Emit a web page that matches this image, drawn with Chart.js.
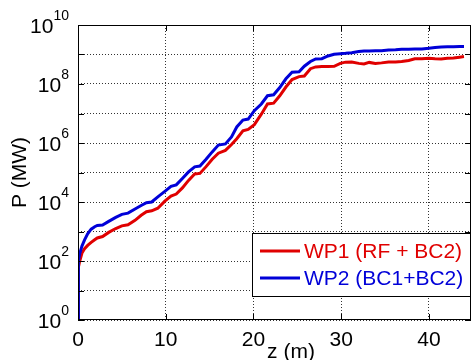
<!DOCTYPE html>
<html>
<head>
<meta charset="utf-8">
<script src="https://cdn.jsdelivr.net/npm/chart.js@4.4.0/dist/chart.umd.min.js"></script>
<style>
  html, body { margin: 0; padding: 0; background: #fff; }
  #wrap { width: 472px; height: 360px; }
</style>
</head>
<body>
<div id="wrap"><canvas id="powerChart"></canvas></div>
<script>
// position along the undulator, m
var zPositions = [0, 0.05, 0.2, 0.45, 0.75, 1.1, 1.5, 1.9, 2.2, 2.8,
  3.5, 4.3, 5.0, 5.7, 6.5, 7.2, 7.8, 8.4, 9.1, 9.9,
  10.6, 11.2, 11.9, 12.6, 13.3, 13.9, 14.6, 15.3, 16.0, 16.8,
  17.5, 18.1, 18.8, 19.4, 20.1, 20.9, 21.6, 22.3, 23.0, 23.7,
  24.4, 25.2, 25.8, 26.5, 27.1, 27.8, 28.5, 29.2, 29.9, 30.5,
  31.2, 32.0, 32.6, 33.2, 33.9, 34.6, 35.4, 36.2, 36.9, 37.7,
  38.4, 39.2, 40.0, 40.7, 41.4, 42.1, 42.8, 43.5, 44.0];

// power in MW
var wp1Power = [1, 63, 100, 186, 263, 339, 427, 525, 603, 676,
  933, 1259, 1549, 1698, 2399, 3548, 4677, 5012, 6166, 1.07e4,
  1.58e4, 1.86e4, 3.0e4, 5.4e4, 8.9e4, 9.3e4, 1.58e5, 2.8e5, 4.5e5, 5.6e5,
  8.9e5, 1.4e6, 2.6e6, 2.9e6, 4.2e6, 9.5e6, 2.1e7, 2.24e7, 4.0e7, 7.9e7,
  1.41e8, 1.78e8, 1.86e8, 3.3e8, 3.8e8, 3.9e8, 3.9e8, 4.0e8, 5.0e8, 5.5e8,
  5.6e8, 5.0e8, 4.8e8, 5.4e8, 5.0e8, 5.2e8, 5.6e8, 5.6e8, 5.8e8, 6.3e8,
  7.2e8, 7.2e8, 7.4e8, 7.2e8, 7.1e8, 7.4e8, 7.6e8, 8.1e8, 8.5e8];

var wp2Power = [1, 100, 180, 320, 520, 830, 1200, 1450, 1600, 1650,
  2200, 3000, 3800, 4200, 5800, 7600, 9500, 1.0e4, 1.5e4, 2.3e4,
  3.4e4, 3.8e4, 6.3e4, 1.05e5, 1.55e5, 1.65e5, 2.8e5, 5.0e5, 8.5e5, 9.3e5,
  1.6e6, 3.5e6, 6.0e6, 6.5e6, 1.25e7, 2.1e7, 4.0e7, 4.3e7, 7.6e7, 1.5e8,
  2.5e8, 2.6e8, 4.0e8, 5.8e8, 7.1e8, 7.2e8, 8.9e8, 1.02e9, 1.07e9, 1.1e9,
  1.15e9, 1.26e9, 1.32e9, 1.32e9, 1.35e9, 1.35e9, 1.41e9, 1.45e9, 1.51e9, 1.51e9,
  1.55e9, 1.55e9, 1.62e9, 1.74e9, 1.78e9, 1.82e9, 1.82e9, 1.86e9, 1.86e9];

var seriesLabels = ['WP1 (RF + BC2)', 'WP2 (BC1+BC2)'];
var zTicks = [0, 10, 20, 30, 40];
var powerTicks = [1e0, 1e1, 1e2, 1e3, 1e4, 1e5, 1e6, 1e7, 1e8, 1e9, 1e10];
var labelledExponents = ['0', '2', '4', '6', '8', '10'];

var FONT = "'Liberation Sans', Arial, Helvetica, sans-serif";

function toPoints(values) {
  return zPositions.map(function(z, i) { return { x: z, y: values[i] }; });
}

// matlab style box, inward ticks, exponent labels, x label and legend
var matlabDecor = {
  id: 'matlabDecor',
  afterDraw: function(chart) {
    var ctx = chart.ctx;
    var area = chart.chartArea;
    var xs = chart.scales.x;
    var ys = chart.scales.y;
    ctx.save();

    ctx.strokeStyle = '#000';
    ctx.lineWidth = 1;
    ctx.beginPath();
    powerTicks.forEach(function(v) {
      var y = Math.round(ys.getPixelForValue(v)) + 0.5;
      ctx.moveTo(area.left, y); ctx.lineTo(area.left + 6, y);
      ctx.moveTo(area.right, y); ctx.lineTo(area.right - 6, y);
    });
    zTicks.forEach(function(v) {
      var x = Math.round(xs.getPixelForValue(v)) + 0.5;
      ctx.moveTo(x, area.bottom); ctx.lineTo(x, area.bottom - 6);
      ctx.moveTo(x, area.top); ctx.lineTo(x, area.top + 6);
    });
    ctx.stroke();
    ctx.strokeRect(area.left + 0.5, area.top + 0.5, area.right - area.left - 1, area.bottom - area.top - 1);

    // y tick labels 10^n
    ctx.fillStyle = '#000';
    ctx.textAlign = 'right';
    ctx.textBaseline = 'alphabetic';
    labelledExponents.forEach(function(e) {
      var y = ys.getPixelForValue(Math.pow(10, Number(e)));
      ctx.font = '14px ' + FONT;
      var w = ctx.measureText(e).width;
      ctx.fillText(e, 69, y - 5);
      ctx.font = '21px ' + FONT;
      ctx.fillText('10', 69 - w, y + 7.5);
    });

    // x axis label
    ctx.font = '21px ' + FONT;
    ctx.textAlign = 'center';
    ctx.fillText('z (m)', 291, 358);

    // legend
    ctx.fillStyle = '#fff';
    ctx.fillRect(252, 233, 219, 64);
    ctx.strokeStyle = '#000';
    ctx.lineWidth = 1;
    ctx.strokeRect(252.5, 233.5, 218, 63);
    ctx.textAlign = 'left';
    ctx.textBaseline = 'middle';
    chart.data.datasets.forEach(function(ds, i) {
      var y = 251 + i * 27;
      ctx.strokeStyle = ds.borderColor;
      ctx.lineWidth = 3;
      ctx.beginPath();
      ctx.moveTo(260, y); ctx.lineTo(300, y);
      ctx.stroke();
      ctx.fillStyle = ds.borderColor;
      ctx.fillText(ds.label, 304, y + 1);
    });
    ctx.restore();
  }
};

var ctx = document.getElementById('powerChart');
var powerChart = new Chart(ctx, {
  type: 'line',
  data: {
    datasets: [
      {
        label: seriesLabels[0],
        data: toPoints(wp1Power),
        borderColor: '#e00000',
        borderWidth: 3,
        pointRadius: 0,
        tension: 0,
        order: 1
      },
      {
        label: seriesLabels[1],
        data: toPoints(wp2Power),
        borderColor: '#0000d8',
        borderWidth: 3,
        pointRadius: 0,
        tension: 0,
        order: 0
      }
    ]
  },
  options: {
    responsive: true,
    maintainAspectRatio: false,
    animation: false,
    layout: { padding: { top: 25, right: 1, left: 0, bottom: 0 } },
    plugins: {
      legend: { display: false },
      tooltip: { enabled: false }
    },
    scales: {
      x: {
        type: 'linear',
        min: 0,
        max: 44.8,
        afterBuildTicks: function(scale) {
          scale.ticks = zTicks.map(function(v) { return { value: v }; });
        },
        afterFit: function(scale) { scale.height = 40; },
        ticks: {
          color: '#000',
          font: { family: FONT, size: 21 },
          padding: 8,
          maxRotation: 0,
          autoSkip: false
        },
        grid: { color: '#333', lineWidth: 1, drawTicks: false },
        border: { display: false, dash: [1, 2] }
      },
      y: {
        type: 'logarithmic',
        min: 1,
        max: 1e10,
        afterBuildTicks: function(scale) {
          scale.ticks = powerTicks.map(function(v) { return { value: v }; });
        },
        afterFit: function(scale) { scale.width = 78; },
        ticks: { display: false },
        grid: { color: '#333', lineWidth: 1, drawTicks: false },
        border: { display: false, dash: [1, 2] },
        title: {
          display: true,
          text: 'P (MW)',
          color: '#000',
          font: { family: FONT, size: 21 },
          padding: { top: 8, bottom: 0 }
        }
      }
    }
  },
  plugins: [matlabDecor]
});
</script>
</body>
</html>
